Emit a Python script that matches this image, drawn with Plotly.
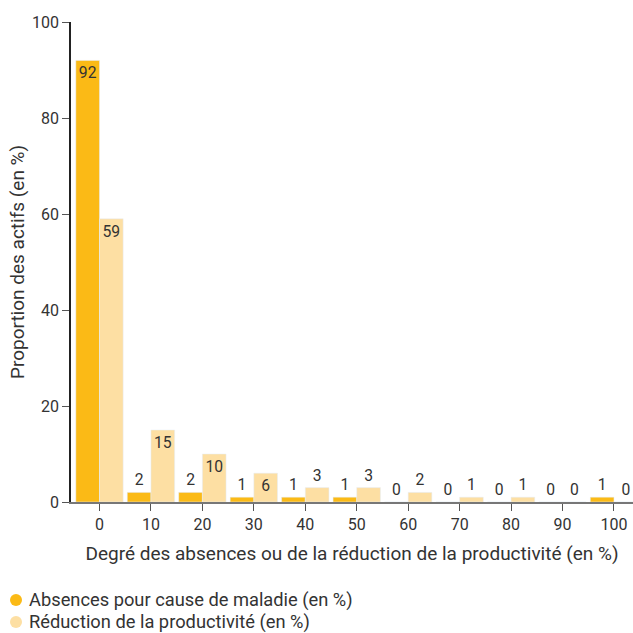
import plotly.graph_objects as go

# categories (degree of absence / productivity loss, %)
degres = [0, 10, 20, 30, 40, 50, 60, 70, 80, 90, 100]
absences = [92, 2, 2, 1, 1, 1, 0, 0, 0, 0, 1]
reduction = [59, 15, 10, 6, 3, 3, 2, 1, 1, 0, 0]

nom_absences = "Absences pour cause de maladie (en %)"
nom_reduction = "Réduction de la productivité (en %)"

orange = "#FBBA16"
clair = "#FDDFA3"
gris = "#333333"
police = "Roboto"

pos_abs = ["inside" if v >= 6 else "outside" for v in absences]
pos_red = ["inside" if v >= 6 else "outside" for v in reduction]

fig = go.Figure()
fig.add_trace(go.Bar(x=degres, y=absences, name=nom_absences, marker_color=orange,
                     text=absences, textposition=pos_abs, showlegend=False,
                     textfont=dict(family=police, color=gris, size=16), insidetextanchor="end",
                     cliponaxis=False, hoverinfo="skip"))
fig.add_trace(go.Bar(x=degres, y=reduction, name=nom_reduction, marker_color=clair,
                     text=reduction, textposition=pos_red, showlegend=False,
                     textfont=dict(family=police, color=gris, size=16), insidetextanchor="end",
                     cliponaxis=False, hoverinfo="skip"))

# legend drawn by hand: coloured dot + text, below the plot
# plot area in pixels: x 71..633, y 22..502
def px_x(p):
    return (p - 71) / 562

def px_y(p):
    return (502 - p) / 480

for i, (nom, c) in enumerate([(nom_absences, orange), (nom_reduction, clair)]):
    yc = 600 + 22 * i
    fig.add_shape(type="circle", xref="paper", yref="paper",
                  x0=px_x(10), x1=px_x(22), y0=px_y(yc + 6), y1=px_y(yc - 6),
                  fillcolor=c, line_width=0)
    fig.add_annotation(xref="paper", yref="paper", x=px_x(27), y=px_y(yc),
                       xanchor="left", yanchor="middle", showarrow=False,
                       text=nom, font=dict(family=police, size=18.3, color=gris))

fig.update_layout(
    width=633, height=633,
    margin=dict(l=71, r=0, t=22, b=131),
    plot_bgcolor="white", paper_bgcolor="white",
    font=dict(family=police, size=16, color=gris),
    barmode="group", bargap=0.08, bargroupgap=0,
    uniformtext=dict(minsize=15, mode="show"),
    showlegend=False,
)
fig.update_xaxes(range=[-5.54, 103.7], tickvals=degres, showgrid=False,
                 showline=True, linecolor="#777777", linewidth=1.5,
                 ticks="outside", ticklen=7, tickcolor="#555555",
                 tickfont=dict(family=police, size=16, color=gris),
                 title=dict(text="Degré des absences ou de la réduction de la productivité (en %)",
                            font=dict(family=police, size=19, color=gris), standoff=14),
                 zeroline=False)
fig.update_yaxes(range=[0, 100], tickvals=[0, 20, 40, 60, 80, 100], showgrid=False,
                 showline=True, linecolor="#222222", linewidth=1.5,
                 ticks="outside", ticklen=7, tickcolor="#555555",
                 tickfont=dict(family=police, size=16, color=gris),
                 title=dict(text="Proportion des actifs (en %)",
                            font=dict(family=police, size=19, color=gris), standoff=2),
                 zeroline=False)

# drop the default 8px page margin so the figure fills the window
fig.write_html("out.html", config={"displayModeBar": False},
               post_script="document.body.style.margin='0';")
